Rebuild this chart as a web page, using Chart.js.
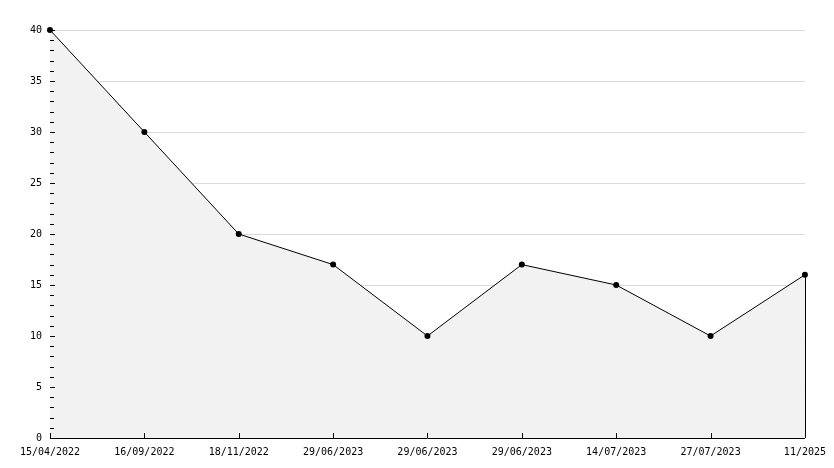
<!DOCTYPE html>
<html><head><meta charset="utf-8">
<script src="https://cdn.jsdelivr.net/npm/chart.js@4"></script>
<style>html,body{margin:0;padding:0;background:#fff}#wrap{width:834px;height:468px}</style>
</head><body><div id="wrap"><canvas id="c" width="834" height="468"></canvas></div>
<script>
const categories = ["15/04/2022","16/09/2022","18/11/2022","29/06/2023","29/06/2023","29/06/2023","14/07/2023","27/07/2023","11/2025"];
const values = [40, 30, 20, 17, 10, 17, 15, 10, 16];
const yMin = 0, yMax = 40, yMajorStep = 5, yMinorStep = 1;

const tickPlugin = {
  id: 'innerTicks',
  afterDatasetsDraw(chart) {
    const ctx = chart.ctx, x = chart.scales.x, y = chart.scales.y, area = chart.chartArea;
    ctx.save();
    ctx.strokeStyle = '#000';
    ctx.lineWidth = 1;
    ctx.beginPath();
    for (let v = yMin; v <= yMax; v += yMinorStep) {
      const py = Math.round(y.getPixelForValue(v)) + 0.5;
      const len = (v % yMajorStep === 0) ? 5 : 4;
      ctx.moveTo(area.left, py); ctx.lineTo(area.left + len, py);
    }
    for (let i = 0; i < categories.length; i++) {
      const px = Math.round(x.getPixelForValue(i)) + 0.5;
      ctx.moveTo(px, area.bottom); ctx.lineTo(px, area.bottom - 5);
    }
    const last = values.length - 1;
    const lx = Math.round(x.getPixelForValue(last)) + 0.5;
    ctx.moveTo(lx, y.getPixelForValue(values[last]));
    ctx.lineTo(lx, area.bottom);
    ctx.stroke();
    ctx.restore();
  }
};

new Chart(document.getElementById('c'), {
  type: 'line',
  data: {
    labels: categories,
    datasets: [{
      data: values,
      borderColor: '#000',
      borderWidth: 1,
      backgroundColor: '#f2f2f2',
      fill: 'origin',
      tension: 0,
      clip: false,
      pointStyle: 'circle',
      pointRadius: 3,
      pointBackgroundColor: '#000',
      pointBorderColor: '#000',
      pointBorderWidth: 0
    }]
  },
  options: {
    responsive: false,
    animation: false,
    devicePixelRatio: 1,
    layout: { padding: { top: 30, right: 29, left: 0, bottom: 0 } },
    plugins: { legend: { display: false }, tooltip: { enabled: false } },
    scales: {
      x: {
        offset: false,
        grid: { display: false, drawTicks: false },
        border: { color: '#000', width: 1 },
        ticks: { color: '#000', font: { family: 'DejaVu Sans Mono', size: 10 }, padding: 8, maxRotation: 0, autoSkip: false },
        afterFit: s => { s.height = 30; }
      },
      y: {
        min: yMin, max: yMax,
        grid: { drawTicks: false, color: c => (c.tick && c.tick.value > 0) ? '#d9d9d9' : 'rgba(0,0,0,0)', lineWidth: 1 },
        border: { color: '#000', width: 1 },
        ticks: { stepSize: yMajorStep, color: '#000', font: { family: 'DejaVu Sans Mono', size: 10 }, padding: 8 },
        afterFit: s => { s.width = 50; }
      }
    }
  },
  plugins: [tickPlugin]
});
</script></body></html>
